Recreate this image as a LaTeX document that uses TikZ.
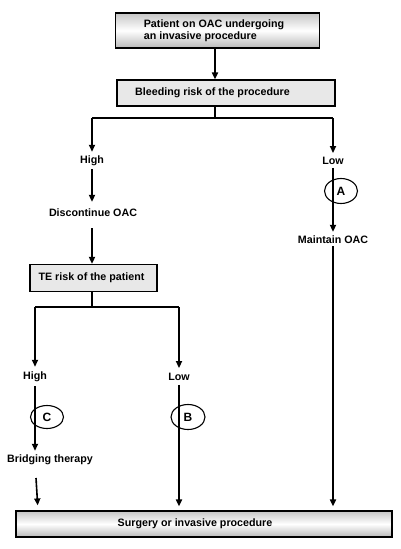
\documentclass[tikz,border=0pt]{standalone}
\usepackage{fontspec}
\setmainfont{Liberation Sans}
\usetikzlibrary{arrows.meta,shapes.geometric}
\begin{document}
\begin{tikzpicture}[x=1pt,y=-1pt,
  font=\fontsize{10.7}{11.7}\selectfont\bfseries,
  gradbox/.style={draw=black,line width=1.2pt,rectangle,inner sep=0pt,top color=gray!45,bottom color=gray!55,middle color=white},
  flatbox/.style={draw=black,line width=1.2pt,rectangle,inner sep=0pt,fill=gray!18},
  lbl/.style={inner sep=1pt},
  tag/.style={draw=black,line width=1.1pt,ellipse,inner sep=0pt,font=\fontsize{12}{13}\selectfont\bfseries},
  ln/.style={line width=1.6pt},
  thk/.style={line width=2.4pt},
  arr/.style={-{Triangle[length=7pt,width=6pt]}}
]
\useasboundingbox (0,0) rectangle (400,549);
\fill[white] (0,0) rectangle (400,549);
% boxes
\node[gradbox,minimum width=204pt,minimum height=35pt] (top) at (217.5,30.5) {};
\node[lbl,align=left] (toptxt) at (214,30.5) {Patient on OAC undergoing\\an invasive procedure};
\node[flatbox,minimum width=218pt,minimum height=26pt] (bleed) at (226,93) {};
\node[lbl] (bleedtxt) at (212.5,93) {Bleeding risk of the procedure};
\node[flatbox,minimum width=127pt,minimum height=27pt] (te) at (93.5,278) {};
\node[lbl] (tetxt) at (91.5,278) {TE risk of the patient};
\node[gradbox,minimum width=376pt,minimum height=26pt] (surg) at (204,524) {};
\node[lbl] (surgtxt) at (195,524) {Surgery or invasive procedure};
% labels
\node[lbl] (high1) at (92,161) {High};
\node[lbl] (low1) at (333,161) {Low};
\node[lbl] (disc) at (93,213) {Discontinue OAC};
\node[lbl] (maint) at (333,240) {Maintain OAC};
\node[lbl] (high2) at (35,377) {High};
\node[lbl] (low2) at (179,377) {Low};
\node[lbl] (bridge) at (50,460) {Bridging therapy};
% junction coordinates
\coordinate (j1) at (215,118);
\coordinate (j1l) at (92,118);
\coordinate (j1r) at (333,118);
\coordinate (j2) at (92,307);
\coordinate (j2l) at (35,307);
\coordinate (j2r) at (179,307);
% connectors
\draw[thk,arr] (top.south -| j1) -- (bleed.north -| j1);
\draw[ln] (bleed.south -| j1) -- (j1);
\draw[ln] (j1l) -- (j1r);
\draw[ln,arr,shorten >=3pt] (j1l) -- (high1.north -| j1l);
\draw[ln,arr,shorten >=3pt] (j1r) -- (low1.north -| j1r);
\draw[ln,arr,shorten <=2pt,shorten >=6pt] (high1.south) -- (disc.north -| high1.south);
\draw[ln,arr,shorten <=10pt] (disc.south -| j2) -- (te.north -| j2);
\draw[ln,arr,shorten <=2pt,shorten >=3pt] (low1.south -| j1r) -- (maint.north -| j1r);
\draw[thk,arr,shorten <=1pt,shorten >=4pt] (maint.south -| j1r) -- (surg.north -| j1r);
\draw[ln] (te.south -| j2) -- (j2);
\draw[ln] (j2l) -- (j2r);
\draw[ln,arr,shorten >=4pt] (j2l) -- (high2.north -| j2l);
\draw[thk,arr,shorten >=4pt] (j2r) -- (low2.north -| j2r);
\draw[ln,arr,shorten <=3pt,shorten >=3pt] (high2.south -| j2l) -- (bridge.north -| j2l);
\coordinate (bt) at (36,478);
\draw[ln,arr,shorten >=5pt] (bt) -- (surg.north -| 38,0);
\draw[thk,arr,shorten <=3pt,shorten >=4pt] (low2.south -| j2r) -- (surg.north -| j2r);
% tags
\node[tag,minimum width=33pt,minimum height=25pt] (tA) at (341,191) {A};
\node[tag,minimum width=33pt,minimum height=23pt] (tC) at (47,417) {C};
\node[tag,minimum width=34pt,minimum height=25pt] (tB) at (188,417) {B};
\end{tikzpicture}
\end{document}
